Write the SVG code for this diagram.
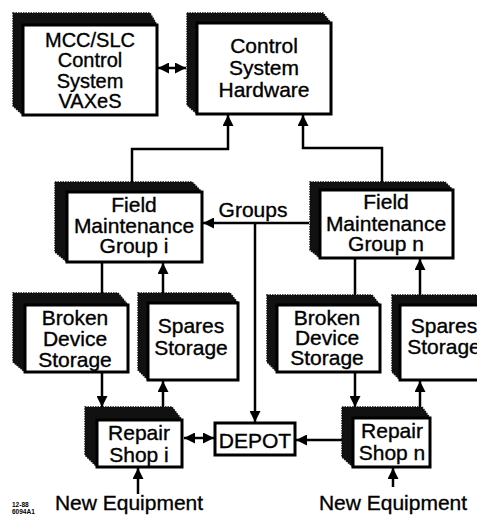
<svg xmlns="http://www.w3.org/2000/svg" width="477" height="520" viewBox="0 0 477 520">
<style>
.bk{fill:#111;stroke:#111;stroke-width:1.5;stroke-dasharray:1.5 1}
.fr{fill:#fff;stroke:#000;stroke-width:3}
.t{font-family:"Liberation Sans",Arial,sans-serif;font-size:21px;fill:#000;stroke:#000;stroke-width:0.35;text-anchor:middle}
.m{font-size:20px}
.c{fill:none;stroke:#000;stroke-width:2.5}
.s{font-family:"Liberation Sans",Arial,sans-serif;font-size:6.5px;font-weight:bold;fill:#000}
</style>
<defs>
<marker id="a" viewBox="0 0 10 10" refX="10" refY="5" markerWidth="4.4" markerHeight="4.4" orient="auto-start-reverse" markerUnits="strokeWidth">
<path d="M0,0L10,5L0,10z" fill="#000"/>
</marker>
</defs>
<rect width="477" height="520" fill="#fff"/>

<g id="mcc">
<polygon class="bk" points="13,13 150,13 157,25 157,115 23,115 13,106"/>
<rect class="fr" x="23" y="25" width="134" height="90"/>
<text class="t m" x="90" y="47">MCC/SLC</text>
<text class="t m" x="90" y="67">Control</text>
<text class="t m" x="90" y="88">System</text>
<text class="t m" x="90" y="108">VAXeS</text>
</g>

<g id="csh">
<polygon class="bk" points="187,13 323,13 331,23 331,114 197,114 187,105"/>
<rect class="fr" x="197" y="23" width="134" height="91"/>
<text class="t" x="264" y="53">Control</text>
<text class="t" x="264" y="75">System</text>
<text class="t" x="264" y="97">Hardware</text>
</g>

<g id="fmgi">
<polygon class="bk" points="55,182 192,182 202,192 202,262 67,262 55,252"/>
<rect class="fr" x="67" y="192" width="135" height="70"/>
<text class="t" x="134" y="212">Field</text>
<text class="t" x="134" y="233">Maintenance</text>
<text class="t" x="134" y="253">Group i</text>
</g>

<g id="fmgn">
<polygon class="bk" points="310,182 445,182 453,190 453,258 320,258 310,250"/>
<rect class="fr" x="320" y="190" width="133" height="68"/>
<text class="t" x="386" y="209">Field</text>
<text class="t" x="386" y="231">Maintenance</text>
<text class="t" x="386" y="251">Group n</text>
</g>

<g id="bdsi">
<polygon class="bk" points="13,293 118,293 128,305 128,372 25,372 13,362"/>
<rect class="fr" x="25" y="305" width="103" height="67"/>
<text class="t" x="75" y="325">Broken</text>
<text class="t" x="75" y="346">Device</text>
<text class="t" x="75" y="367">Storage</text>
</g>

<g id="ssi">
<polygon class="bk" points="138,293 230,293 238,303 238,380 148,380 138,370"/>
<rect class="fr" x="148" y="303" width="90" height="77"/>
<text class="t" x="191" y="333">Spares</text>
<text class="t" x="191" y="355">Storage</text>
</g>

<g id="bdsn">
<polygon class="bk" points="267,295 372,295 380,305 380,372 277,372 267,362"/>
<rect class="fr" x="277" y="305" width="103" height="67"/>
<text class="t" x="327" y="325">Broken</text>
<text class="t" x="327" y="345">Device</text>
<text class="t" x="327" y="365">Storage</text>
</g>

<g id="ssn">
<polygon class="bk" points="392,295 490,295 490,380 400,380 392,372"/>
<rect class="fr" x="400" y="305" width="90" height="75"/>
<text class="t" x="444" y="333">Spares</text>
<text class="t" x="444" y="354">Storage</text>
</g>

<g id="rsi">
<polygon class="bk" points="85,407 172,407 182,420 182,467 97,467 85,455"/>
<rect class="fr" x="97" y="420" width="85" height="47"/>
<text class="t" x="139" y="440">Repair</text>
<text class="t" x="139" y="462">Shop i</text>
</g>

<g id="rsn">
<polygon class="bk" points="342,407 422,407 430,418 430,467 353,467 342,457"/>
<rect class="fr" x="353" y="418" width="77" height="49"/>
<text class="t" x="392" y="438">Repair</text>
<text class="t" x="392" y="460">Shop n</text>
</g>

<g id="depot">
<rect class="fr" x="215" y="423" width="80" height="32"/>
<text class="t" x="255" y="448">DEPOT</text>
</g>

<g id="labels">
<text class="t" x="253" y="217">Groups</text>
<text class="t" x="129" y="510">New Equipment</text>
<text class="t" x="393" y="510">New Equipment</text>
<text class="s" x="12" y="507">12-88</text>
<text class="s" x="12" y="514">6094A1</text>
</g>

<g id="connectors">
<path class="c" d="M158,68H186" marker-start="url(#a)" marker-end="url(#a)"/>
<path class="c" d="M132,182V149H228V115" marker-end="url(#a)"/>
<path class="c" d="M382,182V148H303V115" marker-end="url(#a)"/>
<path class="c" d="M309,223H203" marker-end="url(#a)"/>
<path class="c" d="M255,223V422" marker-end="url(#a)"/>
<path class="c" d="M102,262V293"/>
<path class="c" d="M163,293V263" marker-end="url(#a)"/>
<path class="c" d="M102,372V407" marker-end="url(#a)"/>
<path class="c" d="M163,407V381" marker-end="url(#a)"/>
<path class="c" d="M184,438H214" marker-start="url(#a)" marker-end="url(#a)"/>
<path class="c" d="M342,440H296" marker-end="url(#a)"/>
<path class="c" d="M355,258V295"/>
<path class="c" d="M420,295V259" marker-end="url(#a)"/>
<path class="c" d="M355,372V407" marker-end="url(#a)"/>
<path class="c" d="M420,407V381" marker-end="url(#a)"/>
<path class="c" d="M138,494V468" marker-end="url(#a)"/>
<path class="c" d="M393,487V468" marker-end="url(#a)"/>
</g>
</svg>
